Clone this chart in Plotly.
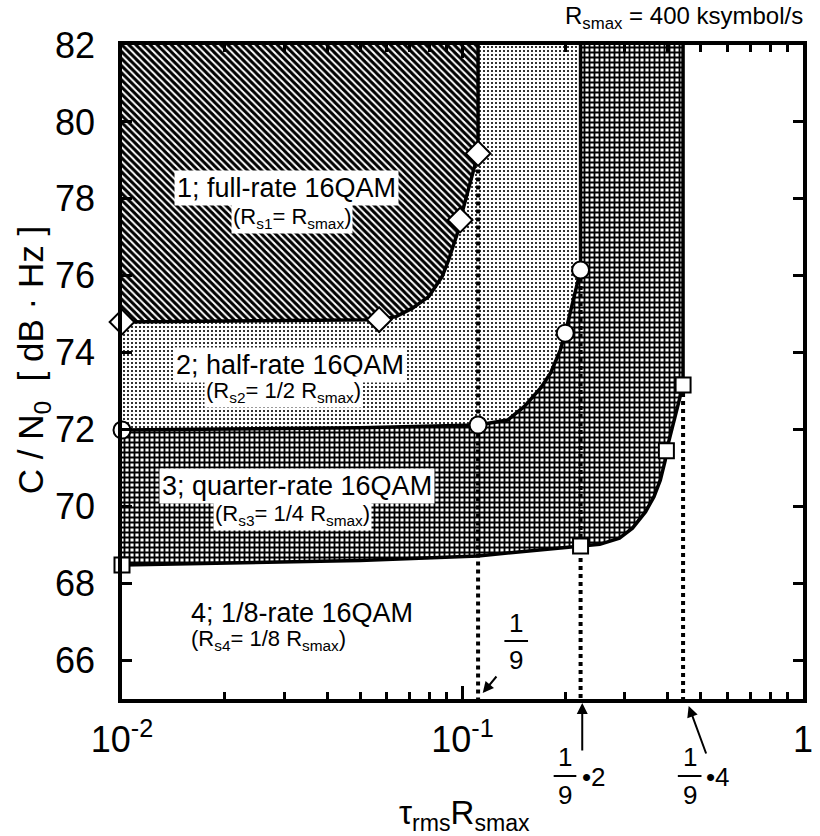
import plotly.graph_objects as go

# ---------------- data ----------------
X_RANGE = [0.01, 1.0]
Y_RANGE = [65, 82]

# boundary curves (tau_rms * Rsmax , C/N0)
curve1_x = [0.01, 0.03, 0.0569, 0.0638, 0.0713, 0.0796, 0.0871, 0.0910, 0.0951, 0.0973, 0.0984, 0.1111, 0.1111]
curve1_y = [74.80, 74.83, 74.86, 74.94, 75.16, 75.46, 75.98, 76.41, 76.93, 77.19, 77.45, 79.18, 82.0]
curve2_x = [0.01, 0.05, 0.1111, 0.1357, 0.1517, 0.1695, 0.1813, 0.1937, 0.2003, 0.2222, 0.2222]
curve2_y = [71.99, 72.05, 72.12, 72.25, 72.60, 73.08, 73.47, 74.07, 74.51, 76.15, 82.0]
curve3_x = [0.01, 0.05, 0.1111, 0.2222, 0.253, 0.289, 0.3156, 0.345, 0.365, 0.381, 0.394, 0.397, 0.4215, 0.4444, 0.4444]
curve3_y = [68.48, 68.60, 68.72, 68.98, 69.02, 69.18, 69.44, 69.87, 70.26, 70.69, 71.21, 71.45, 72.34, 73.16, 82.0]

# measured points
diam_x = [0.01, 0.0569, 0.0984, 0.1111]
diam_y = [74.80, 74.86, 77.45, 79.18]
circ_x = [0.01, 0.1111, 0.2003, 0.2222]
circ_y = [71.99, 72.12, 74.51, 76.15]
sq_x = [0.01, 0.2222, 0.397, 0.4444]
sq_y = [68.48, 68.98, 71.45, 73.16]

# dotted guide lines at 1/9, 2/9, 4/9 (from marker down to axis)
guide_x = [1 / 9, 2 / 9, 4 / 9]
guide_top = [79.18, 76.15, 73.16]

x_tickvals = [0.01, 0.1, 1]
x_ticktext = ["10<sup>-2</sup>", "10<sup>-1</sup>", "1"]
y_tickvals = [66, 68, 70, 72, 74, 76, 78, 80, 82]

region_titles = ["1; full-rate 16QAM", "2; half-rate 16QAM",
                 "3; quarter-rate 16QAM", "4; 1/8-rate 16QAM"]
region_subs = ["(R<sub>s1</sub>= R<sub>smax</sub>)",
               "(R<sub>s2</sub>= 1/2 R<sub>smax</sub>)",
               "(R<sub>s3</sub>= 1/4 R<sub>smax</sub>)",
               "(R<sub>s4</sub>= 1/8 R<sub>smax</sub>)"]

FONT = "Liberation Sans, Arial, sans-serif"

# ---------------- figure ----------------
fig = go.Figure()


def region(cx, cy, shape, size, solidity):
    xs = list(cx) + [X_RANGE[0]]
    ys = list(cy) + [Y_RANGE[1]]
    fig.add_trace(go.Scatter(
        x=xs, y=ys, mode="lines", fill="toself", line=dict(width=0),
        fillcolor="white",
        fillpattern=dict(shape=shape, size=size, solidity=solidity,
                         fgcolor="black", bgcolor="white", fillmode="replace"),
        hoverinfo="skip", showlegend=False))


region(curve3_x, curve3_y, "+", 5, 0.6)
region(curve2_x, curve2_y, ".", 4, 0.22)
region(curve1_x, curve1_y, "\\", 5, 0.6)

for gx, gt in zip(guide_x, guide_top):
    fig.add_trace(go.Scatter(x=[gx, gx], y=[gt, Y_RANGE[0]], mode="lines",
                             line=dict(color="black", width=4, dash="dot"),
                             hoverinfo="skip", showlegend=False))

for cx, cy in [(curve1_x, curve1_y), (curve2_x, curve2_y), (curve3_x, curve3_y)]:
    fig.add_trace(go.Scatter(x=cx, y=cy, mode="lines",
                             line=dict(color="black", width=3.5),
                             hoverinfo="skip", showlegend=False))

for mx, my, sym, sz in [(diam_x, diam_y, "diamond", 19), (circ_x, circ_y, "circle", 17),
                        (sq_x, sq_y, "square", 15)]:
    fig.add_trace(go.Scatter(x=mx, y=my, mode="markers", cliponaxis=False,
                             marker=dict(symbol=sym, size=sz, color="white",
                                         line=dict(color="black", width=2)),
                             hoverinfo="skip", showlegend=False))

# ---------------- text / annotations ----------------
L, R, T, B = 122, 813, 45, 699


def px(v):
    return (v - L) / (R - L)


def py(v):
    return (B - v) / (B - T)


def text_ann(text, x, y, size, xanchor="center", bg=None, pad=1, angle=0):
    d = dict(text=text, x=px(x), y=py(y), xref="paper", yref="paper",
             xanchor=xanchor, yanchor="middle", showarrow=False,
             borderpad=pad, textangle=angle,
             font=dict(size=size, color="black", family=FONT))
    if bg:
        d["bgcolor"] = bg
    return d


anns = []
title_pos = [(289, 188), (292, 365), (300, 486), (305, 613)]
sub_pos = [(294, 218), (286, 392), (295, 515), (271, 640)]
for i in range(4):
    bg = "white" if i < 3 else None
    anns.append(text_ann(region_titles[i], title_pos[i][0], title_pos[i][1], 27, bg=bg, pad=2))
    anns.append(text_ann(region_subs[i], sub_pos[i][0], sub_pos[i][1], 22, bg=bg, pad=1))

# fraction labels
frac_txt = [("1", 522, 623), ("9", 522, 660),
            ("1", 572, 757), ("9", 572, 795),
            ("1", 698, 757), ("9", 698, 795)]
for t, xx, yy in frac_txt:
    anns.append(text_ann(t, xx, yy, 26))
for t, xx, yy in [("\u20222", 587, 777), ("\u20224", 713, 777)]:
    anns.append(text_ann(t, xx, yy, 26, xanchor="left"))

# arrows (head, tail offset)
for hx, hy, ax, ay in [(488, 693, 15, -18), (589, 703, 0, 49), (697, 706, 18, 49)]:
    anns.append(dict(text="", x=px(hx), y=py(hy), xref="paper", yref="paper",
                     showarrow=True, ax=ax, ay=ay, arrowhead=2, arrowsize=1.1,
                     arrowwidth=2, arrowcolor="black", standoff=0))

# top-right note
anns.append(text_ann("R<sub>smax</sub> = 400 ksymbol/s", 815, 18, 24, xanchor="right"))
# axis titles
anns.append(text_ann("\u03c4<sub>rms</sub>R<sub>smax</sub>", 470, 815, 33))
anns.append(text_ann("C / N<sub>0</sub>  [ dB \u00b7 Hz ]", 32, 360, 35, angle=-90))

shapes = []
for x0, x1, yy in [(510, 534, 641), (560, 583, 776), (686, 710, 776)]:
    shapes.append(dict(type="line", xref="paper", yref="paper",
                       x0=px(x0), x1=px(x1), y0=py(yy), y1=py(yy),
                       line=dict(color="black", width=2)))

minor_vals = [m * 10 ** e for e in (-2, -1) for m in range(2, 10)]

fig.update_layout(
    width=820, height=836,
    margin=dict(l=L, r=820 - R, t=T, b=836 - B),
    paper_bgcolor="white", plot_bgcolor="white",
    font=dict(family=FONT, color="black"),
    annotations=anns, shapes=shapes, showlegend=False,
    xaxis=dict(type="log", range=[-2, 0], showline=True, linewidth=3.5,
               linecolor="black", mirror="ticks", ticks="inside", ticklen=13,
               tickwidth=3, tickcolor="black", tickvals=x_tickvals,
               ticktext=x_ticktext, tickfont=dict(size=36, family=FONT),
               showgrid=False, zeroline=False, ticklabelstandoff=6,
               minor=dict(ticks="inside", ticklen=7, tickwidth=3,
                          tickcolor="black", tickvals=minor_vals, showgrid=False)),
    yaxis=dict(range=Y_RANGE, showline=True, linewidth=3.5, linecolor="black",
               mirror="ticks", ticks="inside", ticklen=10, tickwidth=3,
               tickcolor="black", tickvals=y_tickvals,
               tickfont=dict(size=36, family=FONT), showgrid=False,
               zeroline=False, ticklabelstandoff=16),
)

fig.write_html("out.html")
